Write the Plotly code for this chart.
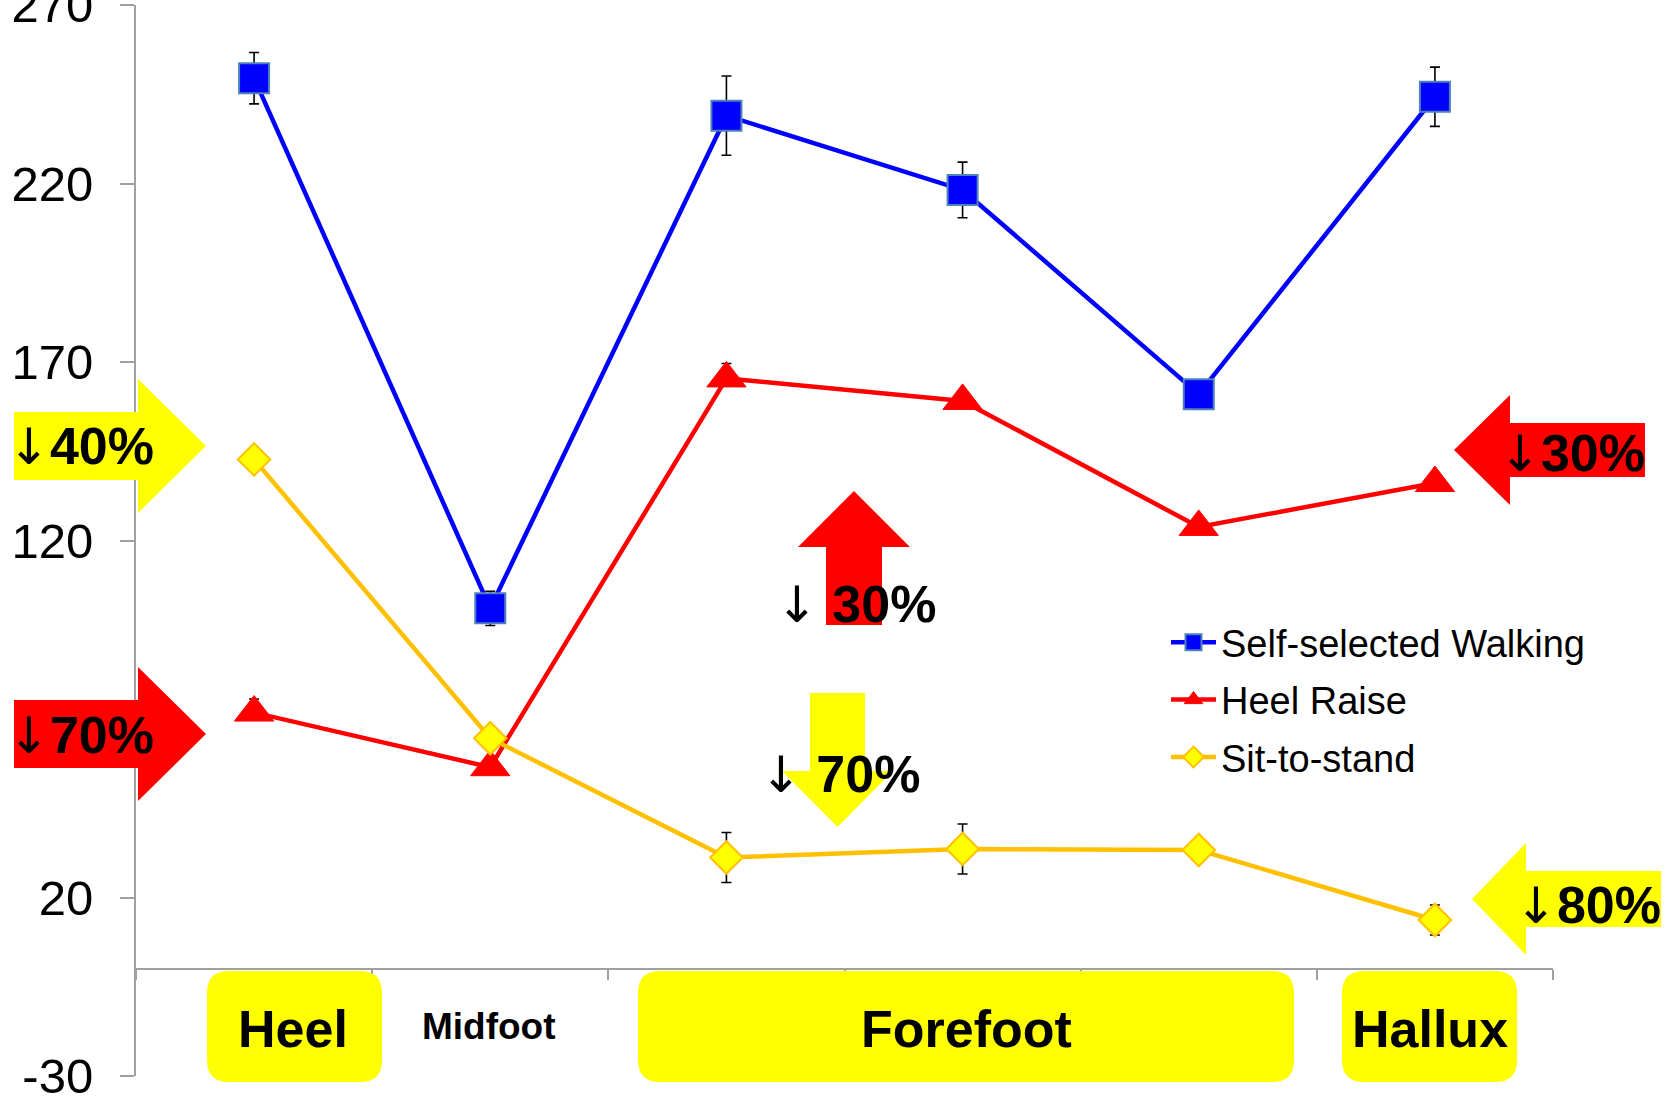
import plotly.graph_objects as go

# ---------------- data ----------------
sites = ["Heel", "Midfoot", "Forefoot 1", "Forefoot 2", "Forefoot 3", "Hallux"]
site_pos = [0, 1, 2, 3, 4, 5]

walking = [249.5, 101.0, 239.0, 218.2, 161.0, 244.3]
walking_err = [7.2, 4.8, 11.1, 7.8, 2.0, 8.3]

heel_raise = [71.8, 56.5, 165.4, 159.1, 123.8, 136.1]
heel_raise_err_plus = [3.8, 1.5, 4.2, 1.5, 1.5, 1.5]
heel_raise_err_minus = [2.0, 1.5, 2.0, 1.5, 1.5, 1.5]

sit_to_stand = [142.7, 64.6, 31.2, 33.6, 33.3, 13.7]
sit_to_stand_err = [2.0, 2.0, 7.0, 7.0, 3.0, 4.2]

y_ticks = [-30, 20, 70, 120, 170, 220, 270]
y_tick_labels = ["-30", "20", "70", "120", "170", "220", "270"]
region_labels = ["Heel", "Midfoot", "Forefoot", "Hallux"]
change_values = ["40%", "70%", "30%", "80%", "30%", "70%"]

# ---------------- geometry helpers ----------------
W, H = 1672, 1096
L, R, T, B = 136, 119, 5, 20
PW, PH = W - L - R, H - T - B
Y_MIN, Y_MAX = -30, 270
FONT = "Liberation Sans, Arial, sans-serif"
ARROW = '<span style="font-family:DejaVu Sans;font-size:50px;font-weight:normal">↓</span>'


def px(x):
    return (x - L) / PW


def py(y):
    return (H - B - y) / PH


def path(points):
    return "M" + " L".join(f"{px(x):.5f},{py(y):.5f}" for x, y in points) + " Z"


def rounded_box(x0, y0, x1, y1, r):
    rx, ry = r / PW, r / PH
    a0, b1 = px(x0), py(y0)
    a1, b0 = px(x1), py(y1)
    return (f"M{a0 + rx},{b1} L{a1 - rx},{b1} Q{a1},{b1} {a1},{b1 - ry} "
            f"L{a1},{b0 + ry} Q{a1},{b0} {a1 - rx},{b0} L{a0 + rx},{b0} "
            f"Q{a0},{b0} {a0},{b0 + ry} L{a0},{b1 - ry} Q{a0},{b1} {a0 + rx},{b1} Z")


fig = go.Figure()

err_style = dict(type="data", visible=True, color="black", thickness=1.6, width=5)

fig.add_trace(go.Scatter(
    x=site_pos, y=walking, name="Self-selected Walking", mode="lines+markers",
    line=dict(color="#0000FF", width=4.5),
    marker=dict(symbol="square", size=30, color="#0000FF", line=dict(color="#4F81BD", width=2)),
    error_y=dict(array=walking_err, **err_style), legendgroup="a"))

fig.add_trace(go.Scatter(
    x=site_pos, y=heel_raise, name="Heel Raise", mode="lines+markers",
    line=dict(color="#FF0000", width=4.5),
    marker=dict(symbol="triangle-up", size=34, color="#FF0000", line=dict(color="#FF0000", width=1)),
    error_y=dict(array=heel_raise_err_plus, arrayminus=heel_raise_err_minus, **err_style),
    legendgroup="b"))

fig.add_trace(go.Scatter(
    x=site_pos, y=sit_to_stand, name="Sit-to-stand", mode="lines+markers",
    line=dict(color="#FFC000", width=4.5),
    marker=dict(symbol="diamond", size=25, color="#FFFF00", line=dict(color="#FFC000", width=2)),
    error_y=dict(array=sit_to_stand_err, **err_style), legendgroup="c"))

shapes = []
YEL, RED = "#FFFF00", "#FF0000"
for (x0, x1) in [(207, 382), (638, 1294), (1342, 1517)]:
    shapes.append(dict(type="path", xref="paper", yref="paper", layer="above",
                       path=rounded_box(x0, 971, x1, 1082, 22),
                       fillcolor=YEL, line=dict(width=0)))

arrows = [
    (YEL, [(14, 412), (138, 412), (138, 379), (206, 446), (138, 513), (138, 480), (14, 480)]),
    (RED, [(14, 700), (138, 700), (138, 667), (206, 734), (138, 801), (138, 768), (14, 768)]),
    (RED, [(1645, 423), (1510, 423), (1510, 395), (1454, 450), (1510, 505), (1510, 477), (1645, 477)]),
    (YEL, [(1661, 871), (1526, 871), (1526, 843), (1472, 899), (1526, 955), (1526, 927), (1661, 927)]),
    (RED, [(826, 625), (826, 547), (798, 547), (854, 491), (910, 547), (882, 547), (882, 625)]),
    (YEL, [(810, 693), (865, 693), (865, 771), (893, 771), (837.5, 827), (782, 771), (810, 771)]),
]
for col, pts in arrows:
    shapes.append(dict(type="path", xref="paper", yref="paper", layer="above",
                       path=path(pts), fillcolor=col, line=dict(width=0)))

annotations = []
for text, xc, size in [(region_labels[0], 293, 52), (region_labels[1], 489, 37),
                       (region_labels[2], 966, 52), (region_labels[3], 1430, 52)]:
    annotations.append(dict(xref="paper", yref="paper", x=px(xc), y=py(1029 if size > 40 else 1026),
                            text=f"<b>{text}</b>", showarrow=False, xanchor="center", yanchor="middle",
                            font=dict(family=FONT, size=size, color="black")))

# percentage labels: (value, x, y, anchor, gap)
pct = [
    (change_values[0], 6, 446, "left", ""),
    (change_values[1], 6, 735, "left", ""),
    (change_values[2], 1647, 454, "right", ""),
    (change_values[3], 1663, 905, "right", ""),
    (change_values[4], 774, 604, "left", " "),
    (change_values[5], 758, 774, "left", " "),
]
for val, x, y, anc, gap in pct:
    annotations.append(dict(xref="paper", yref="paper", x=px(x), y=py(y),
                            text=f"{ARROW}{gap}<b>{val}</b>",
                            showarrow=False, xanchor=anc, yanchor="middle",
                            font=dict(family=FONT, size=52, color="black")))

fig.update_layout(
    width=W, height=H,
    margin=dict(l=L, r=R, t=T, b=B, pad=0, autoexpand=False),
    paper_bgcolor="white", plot_bgcolor="white",
    font=dict(family=FONT, color="black"),
    shapes=shapes, annotations=annotations,
    showlegend=True,
    legend=dict(x=px(1166), y=py(611), xanchor="left", yanchor="top",
                font=dict(family=FONT, size=38, color="black"),
                bgcolor="rgba(0,0,0,0)", itemwidth=45, tracegroupgap=5,
                traceorder="grouped"),
    xaxis=dict(range=[-0.5, 5.5], anchor="free", automargin=False,
               position=(0 - Y_MIN) / (Y_MAX - Y_MIN),
               showgrid=False, zeroline=False, showline=True,
               linecolor="#A0A0A0", linewidth=2,
               tickmode="array", tickvals=[i - 0.5 for i in range(7)],
               ticktext=[""] * 7, ticks="outside", ticklen=10, tickwidth=2, tickcolor="#A0A0A0"),
    yaxis=dict(range=[Y_MIN, Y_MAX], automargin=False,
               showgrid=False, zeroline=False, showline=True,
               linecolor="#A0A0A0", linewidth=2,
               tickmode="array", tickvals=y_ticks, ticktext=y_tick_labels,
               ticks="outside", ticklen=14, tickwidth=2, tickcolor="#A0A0A0",
               ticklabelstandoff=17, ticklabeloverflow="allow",
               tickfont=dict(family=FONT, size=49, color="black")),
)

fig.write_html("out.html", config={"displayModeBar": False},
               post_script="document.body.style.margin='0';")
